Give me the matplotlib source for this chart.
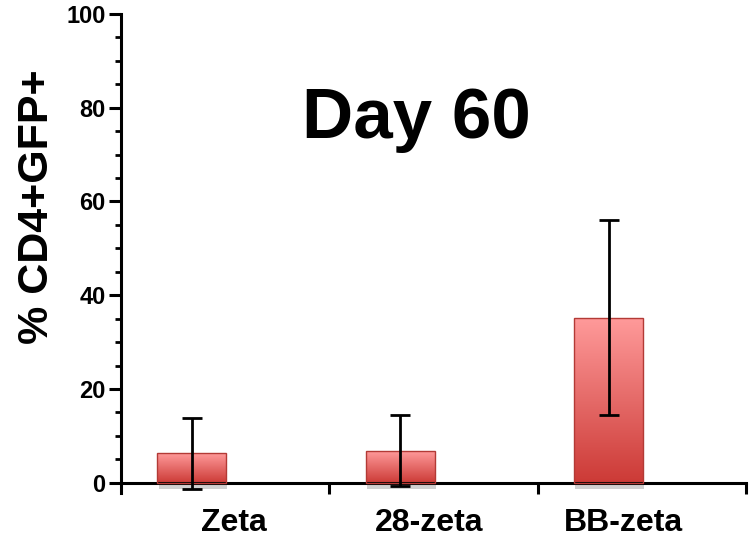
import numpy as np
import matplotlib.pyplot as plt
from matplotlib.colors import LinearSegmentedColormap

# data
groups = ['Zeta', '28-zeta', 'BB-zeta']
means = [6.3, 6.8, 35.2]
errs = [7.6, 7.6, 20.8]

# layout (category slots are one unit wide)
bar_pos = [0.34, 1.34, 2.34]
label_pos = [0.54, 1.48, 2.41]
bar_w = 0.33

plt.rcParams['font.family'] = ['Liberation Sans', 'DejaVu Sans']
plt.rcParams['font.weight'] = 'bold'

fig = plt.figure(figsize=(7.53, 5.42), dpi=100)
ax = fig.add_axes([121/753, 1 - 493/542, 625/753, 479/542])

cmap = LinearSegmentedColormap.from_list('barfill', ['#cc3a36', '#e56a68', '#ff9a9a'])
grad = np.linspace(0, 1, 256).reshape(-1, 1)

for x, m in zip(bar_pos, means):
    # soft grey shadow under each bar
    ax.bar(x + 0.005, 1.3, width=bar_w, bottom=-1.3, color='#d0d0d0',
           edgecolor='none', zorder=1)
    ax.imshow(grad, extent=(x - bar_w/2, x + bar_w/2, 0, m), origin='lower',
              aspect='auto', cmap=cmap, zorder=2)
    ax.bar(x, m, width=bar_w, facecolor='none', edgecolor='#b33a36',
           linewidth=1.0, zorder=3)

ax.errorbar(bar_pos, means, yerr=errs, fmt='none', ecolor='black',
            elinewidth=2.0, capsize=7, capthick=2.0, zorder=4)

ax.set_xlim(0, 3)
ax.set_ylim(-2.2, 100)

for side in ['top', 'right']:
    ax.spines[side].set_visible(False)
ax.spines['bottom'].set_position(('data', 0))
ax.spines['left'].set_linewidth(2.2)
ax.spines['bottom'].set_linewidth(2.2)

ax.set_yticks(np.arange(0, 101, 20))
ax.set_yticks(np.arange(0, 101, 5), minor=True)
ax.tick_params(axis='y', which='major', length=9, width=2.2, labelsize=17, pad=2)
ax.tick_params(axis='y', which='minor', length=4.5, width=2.0)
ax.set_xticks([1, 2, 3])
ax.set_xticklabels([])
ax.tick_params(axis='x', which='major', length=8, width=2.2, direction='out')

for lx, name in zip(label_pos, groups):
    ax.text(lx, -5.5, name, ha='center', va='top', fontsize=23, fontweight='bold')

ax.set_ylabel('% CD4+GFP+', fontsize=31, fontweight='bold')
ax.yaxis.set_label_coords(-0.102, 0.597)
ax.text(1.42, 73.6, 'Day 60', ha='center', va='baseline', fontsize=51, fontweight='bold')

fig.savefig('out.png', dpi=100)
